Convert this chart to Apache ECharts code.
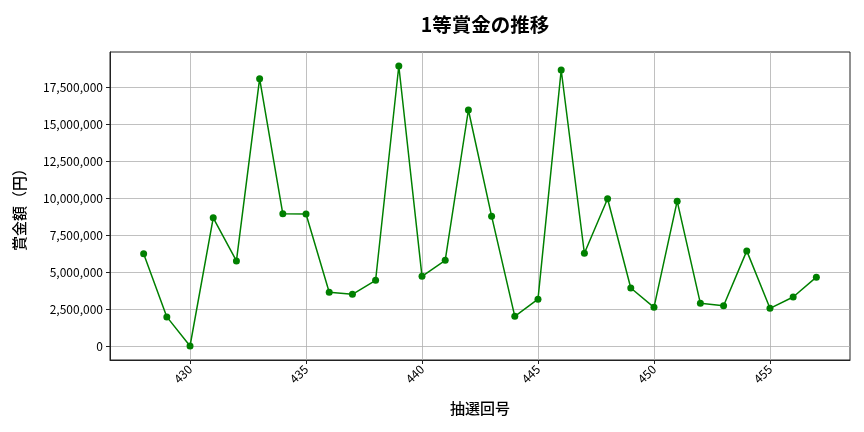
<!DOCTYPE html>
<html><head><meta charset="utf-8">
<script src="https://cdn.jsdelivr.net/npm/echarts@6/dist/echarts.min.js"></script>
<style>html,body{margin:0;padding:0;background:#fff}#c{width:864px;height:432px}</style>
</head><body><div id="c"></div>
<script>
const rounds = [428,429,430,431,432,433,434,435,436,437,438,439,440,441,442,443,444,445,446,447,448,449,450,451,452,453,454,455,456,457];
const prizes = [6240000,1970000,0,8680000,5760000,18100000,8950000,8940000,3640000,3500000,4450000,18960000,4720000,5800000,15980000,8790000,2010000,3170000,18690000,6280000,9970000,3930000,2620000,9810000,2890000,2730000,6440000,2550000,3320000,4660000];
const xTicks = [430,435,440,445,450,455];
const yTicks = [0,2500000,5000000,7500000,10000000,12500000,15000000,17500000];

const font = '"Noto Sans CJK JP","Noto Sans",sans-serif';
const chart = echarts.init(document.getElementById('c'));
const xMin = 428 - 0.05*29, xMax = 457 + 0.05*29;
const yMaxV = Math.max(...prizes), yMinV = Math.min(...prizes);
const ySpan = yMaxV - yMinV;
chart.setOption({
  animation:false,
  title:{text:'1等賞金の推移',left:480,textAlign:'center',top:10,textStyle:{fontFamily:font,fontSize:19.5,fontWeight:'bold',color:'#000'}},
  grid:{left:110,right:14,top:52,bottom:72,show:true,borderColor:'#222',borderWidth:1,outerBoundsMode:'none',containLabel:false},
  xAxis:{type:'value',min:xMin,max:xMax,
    name:'抽選回号',nameLocation:'middle',nameGap:41,nameTextStyle:{fontFamily:font,fontSize:15,fontWeight:500,color:'#000'},
    axisLine:{show:true,onZero:false,lineStyle:{color:'#222'}},
    axisTick:{show:true,customValues:xTicks,length:4,lineStyle:{color:'#222'}},
    axisLabel:{customValues:xTicks,rotate:45,fontFamily:font,fontSize:12,color:'#000',margin:7},
    splitLine:{show:true,customValues:xTicks,lineStyle:{color:'#b0b0b0',width:0.8}}
  },
  yAxis:{type:'value',min:yMinV-0.05*ySpan,max:yMaxV+0.05*ySpan,
    name:'賞金額（円）',nameLocation:'middle',nameGap:83,nameTextStyle:{fontFamily:font,fontSize:15,fontWeight:500,color:'#000'},
    axisLine:{show:true,lineStyle:{color:'#222'}},
    axisTick:{show:true,customValues:yTicks,length:4,lineStyle:{color:'#222'}},
    axisLabel:{customValues:yTicks,fontFamily:font,fontSize:12,color:'#000',margin:7,formatter:v=>Math.round(v).toLocaleString('en-US')},
    splitLine:{show:true,customValues:yTicks,lineStyle:{color:'#b0b0b0',width:0.8}}
  },
  series:[{type:'line',data:rounds.map((r,i)=>[r,prizes[i]]),
    symbol:'circle',symbolSize:7,
    lineStyle:{color:'#008000',width:1.5},itemStyle:{color:'#008000'}}]
});
</script></body></html>
